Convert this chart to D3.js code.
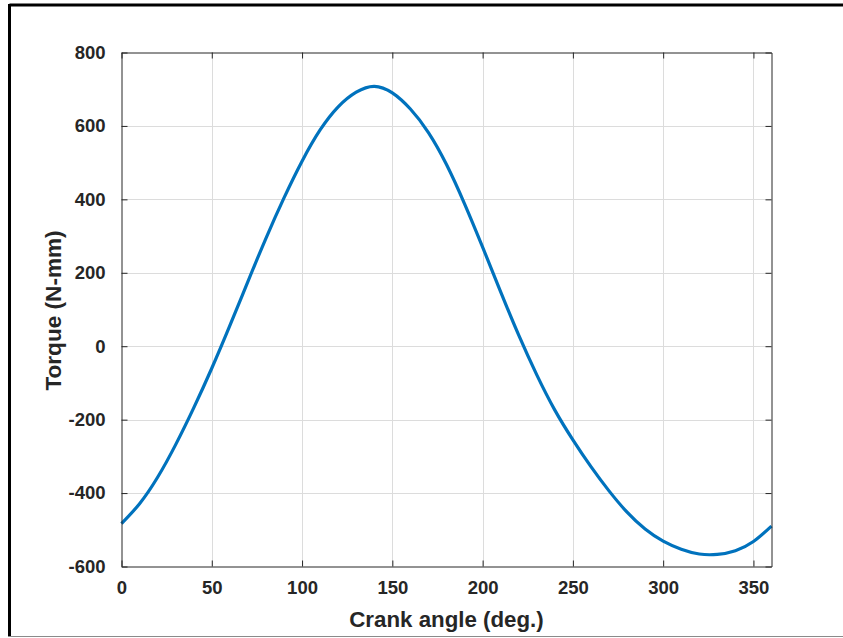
<!DOCTYPE html>
<html>
<head>
<meta charset="utf-8">
<script src="https://cdn.jsdelivr.net/npm/d3@7"></script>
<style>
	body { margin: 0; background: #fff; }
	svg { display: block; }
	text { font-family: "Liberation Sans", Arial, sans-serif; font-weight: bold; fill: #262626; }
</style>
</head>
<body>
<svg id="chart" width="843" height="638"></svg>
<script>
// Values
const crankAngle = [0, 10, 20, 30, 40, 50, 60, 70, 80, 90, 100, 110, 120, 130, 140, 150, 160, 170, 180,
	190, 200, 210, 220, 230, 240, 250, 260, 270, 280, 290, 300, 310, 320, 330, 340, 350, 360];
const torque = [-483, -429, -357, -268, -168, -60, 56, 176, 294, 404, 504, 589, 652, 692, 708, 690, 646, 582, 495,
	388, 270, 148, 30, -78, -174, -255, -328, -394, -452, -498, -531, -553, -566, -567, -557, -532, -490];
const xTicks = [0, 50, 100, 150, 200, 250, 300, 350];
const yTicks = [-600, -400, -200, 0, 200, 400, 600, 800];

function whenDocumentLoaded(action) {
	if (document.readyState === "loading") {
		document.addEventListener("DOMContentLoaded", action);
	} else {
		action();
	}
}

function drawChart(svgId) {
	const svg = d3.select(`#${svgId}`);
	const left = 121.5, right = 771.5, top = 52.5, bottom = 566.5;
	const axisColor = "#262626";
	const tickLen = 6;

	// page frame (as cropped in the reference)
	svg.append("line").attr("x1", 9.5).attr("x2", 843).attr("y1", 5).attr("y2", 5)
		.attr("stroke", "#000").attr("stroke-width", 3);
	svg.append("line").attr("x1", 9.5).attr("x2", 9.5).attr("y1", 4).attr("y2", 637)
		.attr("stroke", "#000").attr("stroke-width", 3);
	svg.append("line").attr("x1", 8).attr("x2", 843).attr("y1", 636.5).attr("y2", 636.5)
		.attr("stroke", "#8a8a8a").attr("stroke-width", 1);

	const x = d3.scaleLinear().domain([0, 360]).range([left, right]);
	const y = d3.scaleLinear().domain([-600, 800]).range([bottom, top]);

	// grid
	const grid = svg.append("g").attr("stroke", "#dcdcdc").attr("stroke-width", 1);
	grid.selectAll("line.vx").data(xTicks.filter((d) => d > 0)).join("line")
		.attr("x1", (d) => Math.round(x(d)) + 0.5).attr("x2", (d) => Math.round(x(d)) + 0.5)
		.attr("y1", top).attr("y2", bottom);
	grid.selectAll("line.hy").data(yTicks.filter((d) => d > -600 && d < 800)).join("line")
		.attr("y1", (d) => Math.round(y(d)) + 0.5).attr("y2", (d) => Math.round(y(d)) + 0.5)
		.attr("x1", left).attr("x2", right);

	// curve
	const line = d3.line()
		.x((d, i) => x(crankAngle[i]))
		.y((d) => y(d))
		.curve(d3.curveNatural);
	svg.append("path")
		.datum(torque)
		.attr("d", line)
		.attr("fill", "none")
		.attr("stroke", "#0072bd")
		.attr("stroke-width", 3.2);

	// axes, MATLAB-like: inward ticks on all four sides
	const fmt = (d) => String(d);
	const xAxisB = d3.axisBottom(x).tickValues(xTicks).tickSizeInner(-tickLen).tickSizeOuter(0).tickPadding(14).tickFormat(fmt);
	const xAxisT = d3.axisTop(x).tickValues(xTicks).tickSizeInner(-tickLen).tickSizeOuter(0).tickFormat("");
	const yAxisL = d3.axisLeft(y).tickValues(yTicks).tickSizeInner(-tickLen).tickSizeOuter(0).tickPadding(16).tickFormat(fmt);
	const yAxisR = d3.axisRight(y).tickValues(yTicks).tickSizeInner(-tickLen).tickSizeOuter(0).tickFormat("");

	function style(g) {
		g.select(".domain").attr("stroke", axisColor);
		g.selectAll(".tick line").attr("stroke", axisColor);
		g.selectAll(".tick text")
			.attr("fill", axisColor)
			.style("font-size", "18.5px")
			.style("font-weight", "bold")
			.style("font-family", "'Liberation Sans', Arial, sans-serif");
	}

	svg.append("g").attr("transform", `translate(0,${bottom})`).call(xAxisB).call(style);
	svg.append("g").attr("transform", `translate(0,${top})`).call(xAxisT).call(style);
	svg.append("g").attr("transform", `translate(${left},0)`).call(yAxisL).call(style);
	svg.append("g").attr("transform", `translate(${right},0)`).call(yAxisR).call(style);

	// axis labels
	svg.append("text")
		.attr("x", (left + right) / 2)
		.attr("y", 627)
		.attr("text-anchor", "middle")
		.style("font-size", "22.3px")
		.text("Crank angle (deg.)");
	svg.append("text")
		.attr("transform", `translate(61,${(top + bottom) / 2 + 1}) rotate(-90)`)
		.attr("text-anchor", "middle")
		.style("font-size", "22.6px")
		.text("Torque (N-mm)");
}

whenDocumentLoaded(() => {
	drawChart("chart");
});
</script>
</body>
</html>
